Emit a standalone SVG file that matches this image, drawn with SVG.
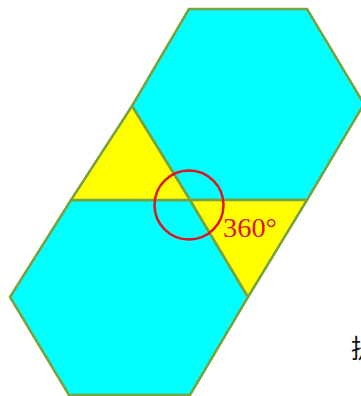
<svg xmlns="http://www.w3.org/2000/svg" width="361" height="396" viewBox="0 0 361 396">
<style>
.hex{fill:#00ffff;stroke:#7aa23c;stroke-width:2.5;stroke-linejoin:round}
.tri{fill:#ffff00;stroke:#7aa23c;stroke-width:2.5;stroke-linejoin:round}
.lbl{font-family:"Liberation Serif","Times New Roman",serif;fill:#e0141e}
</style>
<rect width="361" height="396" fill="#ffffff"/>
<g id="hex-top"><polygon class="hex" points="189,9 307,9 364,104 307,200 190,200 132,106"/></g>
<g id="hex-bottom"><polygon class="hex" points="71,200 190,200 248,297 190,395 69,395 10,297"/></g>
<g id="tri-left"><polygon class="tri" points="132,106 190,200 71,200"/></g>
<g id="tri-right"><polygon class="tri" points="190,200 307,200 248,297"/></g>
<g id="angle-mark">
<circle cx="189" cy="205" r="34.5" fill="none" stroke="#e0141e" stroke-width="2.5"/>
<text class="lbl" x="223" y="237" font-size="27" textLength="54" lengthAdjust="spacingAndGlyphs">360°</text>
</g>
<text x="351" y="358" font-size="26" font-family="'Noto Sans CJK SC',sans-serif" fill="#111">提</text>
</svg>
